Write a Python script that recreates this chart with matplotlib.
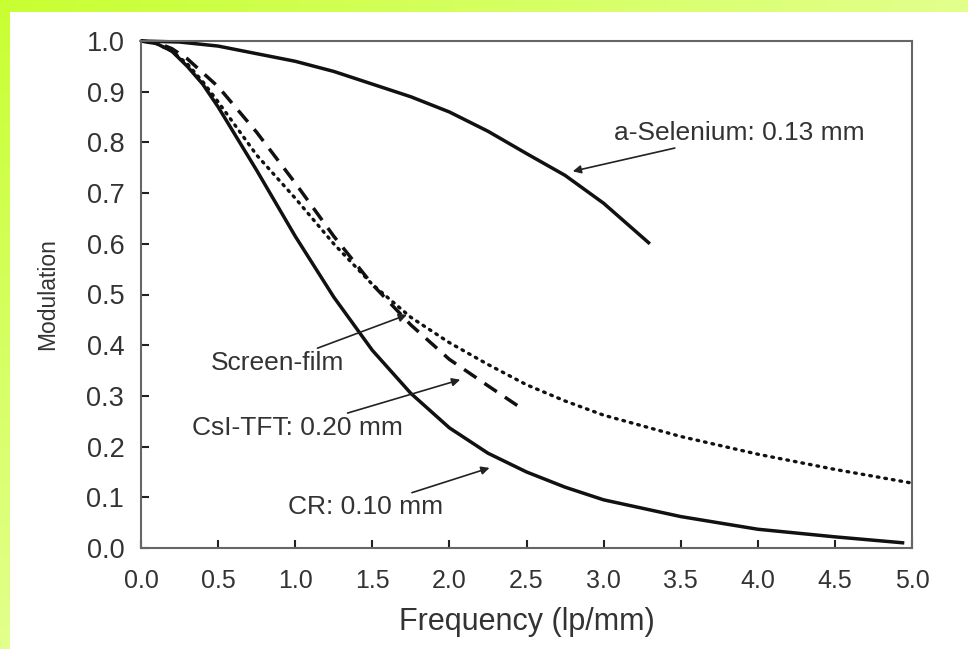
import numpy as np
import matplotlib
matplotlib.use("Agg")
import matplotlib.pyplot as plt

plt.rcParams['font.family'] = ['Liberation Sans', 'DejaVu Sans']

# ---- data ----
se_x = [0.0, 0.25, 0.5, 0.75, 1.0, 1.25, 1.5, 1.75, 2.0, 2.25, 2.5, 2.75, 3.0, 3.3]
se_y = [1.0, 0.998, 0.99, 0.975, 0.96, 0.94, 0.915, 0.89, 0.86, 0.822, 0.778, 0.735, 0.68, 0.60]

cr_x = [0.0, 0.1, 0.2, 0.3, 0.4, 0.5, 0.75, 1.0, 1.25, 1.5, 1.75, 2.0, 2.25, 2.5, 2.75, 3.0, 3.5, 4.0, 4.5, 4.95]
cr_y = [1.0, 0.995, 0.98, 0.95, 0.915, 0.87, 0.745, 0.615, 0.495, 0.39, 0.305, 0.237, 0.187, 0.15, 0.12, 0.095, 0.062, 0.037, 0.022, 0.01]

sf_x = [0.0, 0.1, 0.2, 0.3, 0.4, 0.5, 0.75, 1.0, 1.25, 1.5, 1.75, 2.0, 2.25, 2.5, 2.75, 3.0, 3.5, 4.0, 4.5, 5.0]
sf_y = [1.0, 0.995, 0.98, 0.955, 0.92, 0.88, 0.775, 0.69, 0.60, 0.52, 0.455, 0.405, 0.362, 0.322, 0.29, 0.262, 0.22, 0.185, 0.155, 0.128]

csi_x = [0.0, 0.1, 0.2, 0.3, 0.5, 0.75, 1.0, 1.25, 1.5, 1.75, 2.0, 2.25, 2.47]
csi_y = [1.0, 0.997, 0.985, 0.965, 0.91, 0.82, 0.72, 0.615, 0.52, 0.44, 0.372, 0.32, 0.275]

x_ticks = [0.0, 0.5, 1.0, 1.5, 2.0, 2.5, 3.0, 3.5, 4.0, 4.5, 5.0]
y_ticks = [0.0, 0.1, 0.2, 0.3, 0.4, 0.5, 0.6, 0.7, 0.8, 0.9, 1.0]

labels = ["a-Selenium: 0.13 mm", "Screen-film", "CsI-TFT: 0.20 mm", "CR: 0.10 mm"]

W, H = 968, 649
fig = plt.figure(figsize=(W / 100, H / 100), dpi=100)
fig.patch.set_facecolor('white')

# green frame (top and left bands with gradient)
bright = np.array([200, 255, 50]) / 255.0
light = np.array([226, 255, 140]) / 255.0
t = np.linspace(0, 1, W)[None, :, None]
top = np.repeat(bright * (1 - t) + light * t, 12, axis=0)
fig.figimage(top, xo=0, yo=H - 12, zorder=0)
s = np.linspace(0, 1, H)[:, None, None]
left = np.repeat(bright * (1 - s) + light * s, 10, axis=1)
fig.figimage(left, xo=0, yo=0, zorder=0)

ax = fig.add_axes([141 / W, 1 - 548 / H, (912 - 141) / W, (548 - 41) / H])
ax.set_xlim(0, 5.0)
ax.set_ylim(0, 1.0)

lw = 2.5
ax.plot(se_x, se_y, color='#111111', lw=lw, solid_capstyle='butt', solid_joinstyle='round', clip_on=False)
ax.plot(cr_x, cr_y, color='#111111', lw=lw, solid_capstyle='butt', solid_joinstyle='round', clip_on=False)
ax.plot(csi_x, csi_y, color='#111111', lw=lw, dashes=(4.3, 2.8), clip_on=False)
ax.plot(sf_x, sf_y, color='#111111', lw=2.4, dashes=(0.5, 1.8), dash_capstyle='round', clip_on=False)

for sp in ax.spines.values():
    sp.set_color('#666666')
    sp.set_linewidth(1.5)

ax.set_xticks(x_ticks)
ax.set_yticks(y_ticks)
ax.set_xticklabels([f"{v:.1f}" for v in x_ticks], fontsize=18, color='#333333')
ax.set_yticklabels([f"{v:.1f}" for v in y_ticks], fontsize=19.5, color='#333333')
ax.tick_params(axis='both', direction='in', length=6, width=1.5, color='#222222')
ax.tick_params(axis='x', pad=15)
ax.tick_params(axis='y', pad=12)
ax.set_xlabel("Frequency (lp/mm)", fontsize=22, color='#333333', labelpad=10)
ax.set_ylabel("Modulation", fontsize=16.5, color='#333333', labelpad=20)

arrow = dict(arrowstyle='-|>', lw=1.2, color='#222222', mutation_scale=12, shrinkA=0, shrinkB=0)
fs = 19
ax.annotate(labels[0], xy=(2.80, 0.743), xytext=(3.07, 0.818), fontsize=fs, color='#333333',
            ha='left', va='center', arrowprops=arrow)
ax.annotate(labels[1], xy=(1.725, 0.46), xytext=(1.32, 0.365), fontsize=fs, color='#333333',
            ha='right', va='center', arrowprops=arrow)
ax.annotate(labels[2], xy=(2.07, 0.332), xytext=(1.70, 0.237), fontsize=fs, color='#333333',
            ha='right', va='center', arrowprops=arrow)
ax.annotate(labels[3], xy=(2.26, 0.158), xytext=(1.96, 0.08), fontsize=fs, color='#333333',
            ha='right', va='center', arrowprops=arrow)

fig.savefig("out.png", dpi=100, facecolor=fig.get_facecolor())
